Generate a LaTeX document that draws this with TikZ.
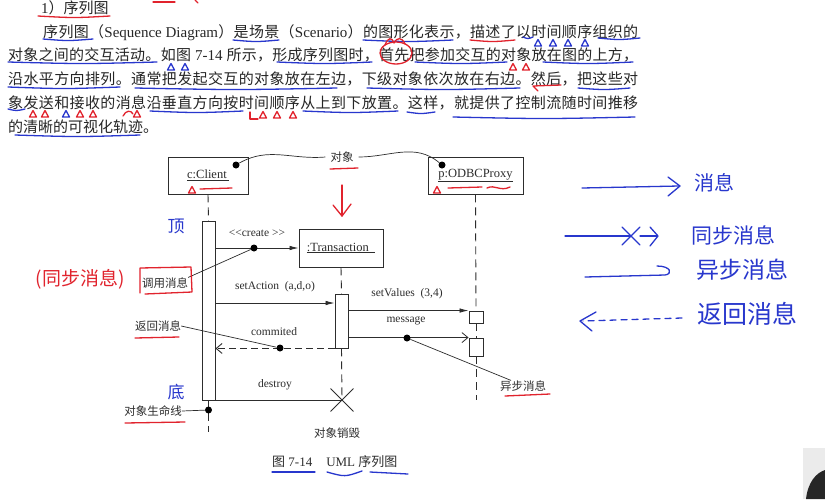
\documentclass[tikz,border=0pt]{standalone}
\usepackage{fontspec}
\setmainfont{Liberation Serif}
\newfontfamily\cjk{Noto Sans CJK SC}
\usetikzlibrary{arrows.meta,shapes.misc}
\definecolor{hblue}{RGB}{40,55,205}
\definecolor{hred}{RGB}{225,35,45}
\definecolor{ink}{RGB}{45,45,45}
\makeatletter
\def\spr@end{\relax}
\def\spr@endm{\spr@end}
\def\spr#1{\spr@a#1\spr@end}
\def\spr@a#1{{#1}\spr@b}
\def\spr@b#1{\def\spr@tmp{#1}\ifx\spr@tmp\spr@endm\else\hskip 0pt plus 1fil{#1}\expandafter\spr@b\fi}
\makeatother
\newcommand\htri[3]{\draw[#1] ({#2-3.5},{#3+3}) -- (#2,{#3-3.5}) -- ({#2+3.5},{#3+3}) -- cycle;}
\newcommand\hul[4]{\draw[#1] (#2,#4) .. controls ({(#2+#3)/2},{#4+2}) .. (#3,#4);}
\begin{document}
\begin{tikzpicture}[x=1pt,y=-1pt,
 para/.style={inner sep=0,anchor=base west,font=\cjk\fontsize{15}{18}\selectfont,text=black!85},
 obj/.style={draw=ink,line width=0.9pt,inner sep=0,font=\fontsize{12.5}{14}\selectfont,text=ink},
 actbar/.style={draw=ink,fill=white,line width=0.9pt,inner sep=0},
 life/.style={draw=ink,line width=0.9pt,dash pattern=on 8pt off 5pt},
 callmsg/.style={draw=ink,line width=0.8pt,-{Latex[length=9pt,width=4.5pt]}},
 asyncmsg/.style={draw=ink,line width=0.8pt,-{Straight Barb[length=6pt,width=10pt]}},
 retmsg/.style={draw=ink,line width=0.9pt,dash pattern=on 7pt off 4pt,-{Straight Barb[length=6pt,width=10pt]}},
 lbl/.style={inner sep=0,font=\fontsize{11.5}{13}\selectfont,text=ink},
 zh/.style={inner sep=0,font=\cjk\fontsize{11.5}{13}\selectfont,text=ink},
 blob/.style={circle,fill=black,inner sep=0,minimum size=7pt},
 pointer/.style={draw=ink,line width=0.7pt},
 hb/.style={draw=hblue,line width=1.3pt,line cap=round,line join=round},
 hr/.style={draw=hred,line width=1.3pt,line cap=round,line join=round},
 hbt/.style={inner sep=0,text=hblue,font=\cjk\fontsize{#1}{#1}\selectfont},
 hrt/.style={inner sep=0,text=hred,font=\cjk\fontsize{#1}{#1}\selectfont}]
\useasboundingbox (0,0) rectangle (825,499);
\fill[white] (0,0) rectangle (825,499);

% ---------- paragraph ----------
\node[para] (t0) at (41,13) {{\rmfamily 1}）序列图};
\node[para] (p1) at (43,37) {\hbox to 595pt{\spr{序列图（{\rmfamily Sequence Diagram}）是场景（{\rmfamily Scenario}）的图形化表示，描述了以时间顺序组织的}}};
\node[para] (p2) at (8,60) {\hbox to 630pt{\spr{对象之间的交互活动。如图{\rmfamily\ 7-14\ }所示，形成序列图时，首先把参加交互的对象放在图的上方，}}};
\node[para] (p3) at (8,84) {\hbox to 630pt{\spr{沿水平方向排列。通常把发起交互的对象放在左边，下级对象依次放在右边。然后，把这些对}}};
\node[para] (p4) at (8,108) {\hbox to 630pt{\spr{象发送和接收的消息沿垂直方向按时间顺序从上到下放置。这样，就提供了控制流随时间推移}}};
\node[para] (p5) at (8,132) {的清晰的可视化轨迹。};

% marks on paragraph
\draw[hr] (153,2) -- (175,2); \draw[hr] (195,0) -- (198,3);
\hul{hr}{38}{110}{16}
\hul{hb}{43}{93}{39}
\hul{hb}{233}{279}{40}
\hul{hb}{363}{453}{40}
\hul{hr}{470}{515}{40}
\hul{hb}{523}{533}{37}
\hul{hb}{598}{640}{38}
\htri{hb}{538}{43} \htri{hb}{553}{43} \htri{hb}{568}{43} \htri{hb}{585}{43}
\hul{hb}{8}{157}{62}
\hul{hb}{277}{372}{62}
\hul{hb}{415}{507}{62}
\hul{hb}{543}{633}{62}
\htri{hb}{171}{67} \htri{hb}{185}{67}
\htri{hr}{513}{67} \htri{hr}{526}{67}
\draw[hr] (396,53) ellipse [x radius=16, y radius=11];
\draw[hr] (385,45) .. controls (388,37) and (392,37) .. (394,43) .. controls (397,37) and (402,37) .. (405,44);
\hul{hb}{8}{120}{87}
\hul{hb}{135}{337}{88}
\hul{hb}{367}{520}{88}
\draw[hr] (561,85) -- (533,86) -- (538,91);
\hul{hb}{578}{630}{88}
\hul{hb}{8}{25}{109}
\htri{hr}{33}{114} \htri{hr}{45}{114}
\htri{hb}{66}{114}
\htri{hr}{80}{114} \htri{hr}{93}{114}
\draw[hr] (123,116) .. controls (126,110) and (131,110) .. (133,114); \htri{hr}{137}{114}
\hul{hb}{150}{243}{111}
\draw[hr] (250,112) -- (250,119) -- (258,119); \htri{hr}{263}{115} \htri{hr}{277}{115} \htri{hr}{293}{115}
\hul{hb}{303}{398}{111}
\hul{hb}{407}{435}{112}
\hul{hb}{453}{635}{117}
\hul{hb}{15}{140}{135}

% ---------- diagram ----------
\node[obj,minimum width=80pt,minimum height=37pt] (client) at (208,175.5) {\underline{c:Client\,}};
\node[obj,minimum width=84pt,minimum height=38pt] (trans) at (341,248) {\underline{:Transaction\ \ }};
\node[obj,minimum width=95pt,minimum height=37pt] (odbc) at (475.5,175.5) {\underline{p:ODBCProxy}};
\node[actbar,minimum width=13pt,minimum height=179pt] (cbar) at (208.5,310.5) {};
\node[actbar,minimum width=13pt,minimum height=54pt] (tact) at (341.5,321) {};
\node[actbar,minimum width=14pt,minimum height=12pt] (oact1) at (476,317) {};
\node[actbar,minimum width=14pt,minimum height=18pt] (oact2) at (476,347) {};
\node[draw=ink,cross out,line width=0.9pt,minimum size=22pt,inner sep=0] (xd) at (342,400) {};
\coordinate (cend) at (208.5,432);
\coordinate (oend) at (476,400);

% lifelines
\draw[life] (client.south) -- (cbar.north);
\draw[life] (cbar.south) -- (cend);
\draw[life] (trans.south) -- (tact.north);
\draw[life] (tact.south) -- (xd.center);
\draw[life] (odbc.south) -- (oact1.north);
\draw[life] (oact1.south) -- (oact2.north);
\draw[life] (oact2.south) -- (oend);

% messages
\coordinate (sa) at (215,303);
\draw[callmsg] (cbar.east |- trans.west) -- (trans.west);
\draw[callmsg] (cbar.east |- sa) -- (tact.west |- sa);
\draw[callmsg] (tact.east |- oact1.north) -- (oact1.north west);
\draw[asyncmsg] (tact.east |- oact2.north) -- (oact2.north west);
\draw[retmsg] (tact.south west) -- (cbar.east |- tact.south west);
\draw[draw=ink,line width=0.9pt] (cbar.east |- xd) -- (xd.center);

\node[lbl] (mcreate) at (257,233) {\mbox{<}\mbox{<}create \mbox{>}\mbox{>}};
\node[lbl] (mset) at (275,287) {setAction\ \ (a,d,o)};
\node[lbl] (mval) at (407,294) {setValues\ \ (3,4)};
\node[lbl] (mmsg) at (406,321) {message};
\node[lbl] (mcom) at (274,332) {commited};
\node[lbl] (mdes) at (275,385) {destroy};

% dots and callouts
\node[blob] (d1) at (254,248) {};
\node[blob] (d2) at (280,348) {};
\node[blob] (d3) at (407,338) {};
\node[blob] (d4) at (208.5,410) {};
\node[blob] (cdot) at (236,165) {};
\node[blob] (odot) at (442,165) {};
\node[zh] (l1) at (165,283) {调用消息};
\node[zh] (l2) at (158,326) {返回消息};
\node[zh] (l3) at (523,386) {异步消息};
\node[zh] (l4) at (153,411) {对象生命线};
\node[zh,inner sep=5pt] (l5) at (342,157) {对象};
\node[zh] (l6) at (337,433) {对象销毁};
\draw[pointer] (l1.north east) -- (d1);
\draw[pointer] (l2.east) -- (d2);
\draw[pointer] (d3) -- (l3.155);
\draw[pointer] (l4.east) -- (d4);
\draw[pointer] (cdot) to[out=30,in=185] (l5.west);
\draw[pointer] (l5.east) to[out=0,in=140] (odot);

\node[inner sep=0,anchor=base west,font=\fontsize{13}{15}\selectfont,text=ink] (cap) at (272,466) {{\cjk 图} 7-14\hspace{14pt}UML {\cjk 序列图}};

% red handwriting on diagram
\draw[hr] (330,169) -- (358,168);
\draw[hr] (342,185) -- (342,216);
\draw[hr] (333,205) -- (342,216) -- (351,204);
\htri{hr}{192}{190}
\draw[hr] (200,189) -- (232,188);
\htri{hr}{437}{190}
\draw[hr] (448,188) -- (482,187);
\draw[hr] (487,188) .. controls (495,184) and (500,192) .. (510,187);
\draw[hr] (140,293) -- (140,268) -- (191,267) -- (192,292) -- (145,294);
\draw[hr] (135,338) -- (179,337);
\draw[hr] (125,423) -- (185,422);
\draw[hr] (505,396) -- (550,394);
\node[hrt=19] (sync) at (80,279) {(同步消息)};

% blue handwriting
\node[hbt=17] (top) at (176,226) {顶};
\node[hbt=17] (bot) at (176,392) {底};
\draw[hb] (272,472) -- (315,472);
\draw[hb] (327,472) .. controls (345,477) .. (362,471);
\draw[hb] (370,472) -- (408,474);

\draw[hb] (582,188) -- (679,186);
\draw[hb] (668,177) -- (680,186) -- (668,196);
\node[hbt=20] (k1) at (714,183) {消息};
\draw[hb] (565,236) -- (630,236);
\draw[hb] (622,227) -- (640,245);
\draw[hb] (622,245) -- (640,227);
\draw[hb] (640,236) -- (657,236);
\draw[hb] (650,227) -- (658,236) -- (650,246);
\node[hbt=21] (k2) at (733,235) {同步消息};
\draw[hb] (585,277) -- (665,275) .. controls (673,274) and (671,266) .. (657,266);
\node[hbt=23] (k3) at (742,270) {异步消息};
\draw[hb,dash pattern=on 6pt off 5pt] (682,318) -- (583,321);
\draw[hb] (596,312) -- (580,321) -- (592,331);
\node[hbt=25] (k4) at (747,314) {返回消息};

% corner
\fill[black!8] (803,448) rectangle (825,499);
\fill[black!85] (806,499) .. controls (808,482) and (816,473) .. (825,470) -- (825,499) -- cycle;
\end{tikzpicture}
\end{document}
